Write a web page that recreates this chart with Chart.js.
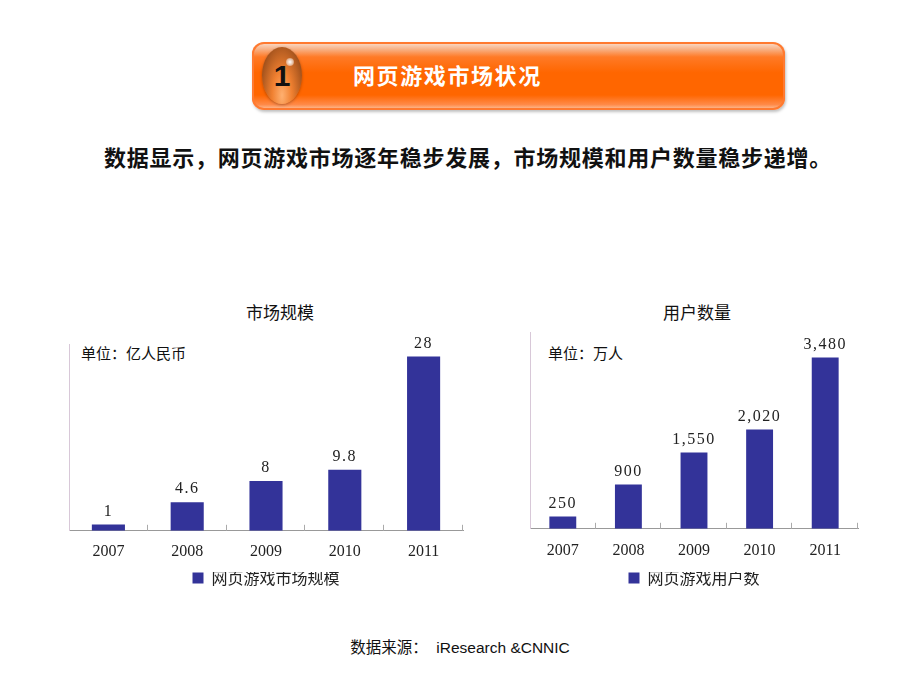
<!DOCTYPE html>
<html>
<head>
<meta charset="utf-8">
<script src="https://cdn.jsdelivr.net/npm/chart.js@4.4.0/dist/chart.umd.min.js"></script>
<style>
body { margin:0; width:920px; height:690px; background:#fff; position:relative; overflow:hidden; font-family:"Noto Sans CJK SC", sans-serif; color:#111; }
#banner { position:absolute; left:252px; top:42px; width:533px; height:68px; border-radius:12px;
  background:linear-gradient(to bottom, #fbe3d4 0%, #f7b48a 10%, #ff7a26 22%, #ff6600 45%, #ff6600 78%, #ff8a48 92%, #fbc9a8 100%);
  box-shadow: inset 0 0 0 2px #ff7a30, 1px 2px 3px rgba(0,0,0,0.25); }
#ball { position:absolute; left:262px; top:47px; width:40px; height:57px; border-radius:50%;
  background:radial-gradient(ellipse at 50% 85%, #ffb070 0%, #f08030 35%, #b05a20 70%, #7a3a10 100%);
  box-shadow: 0 1px 3px rgba(0,0,0,0.3); }
#ball .spot { position:absolute; left:24px; top:11px; width:8px; height:8px; border-radius:50%; background:radial-gradient(circle, #fff 0%, rgba(255,255,255,0.6) 50%, rgba(255,255,255,0) 100%); }
#ball .num { position:absolute; left:0; width:100%; top:12px; text-align:center; font:bold 30px "Liberation Sans", Arial, sans-serif; color:#111; }
#bannerText { position:absolute; left:353px; top:58px; font-weight:bold; font-size:22px; letter-spacing:1.6px; color:#fff; line-height:32px; }
#subtitle { position:absolute; left:8px; width:920px; top:141px; text-align:center; font-weight:bold; font-size:22px; letter-spacing:0.75px; line-height:30px; color:#111; }
.ctitle { position:absolute; top:300px; font-size:17px; line-height:24px; text-align:center; width:200px; }
.unit { position:absolute; top:342px; font-size:15px; line-height:22px; }
#source { position:absolute; left:0; width:920px; top:638px; text-align:center; font-size:15.5px; line-height:20px; white-space:pre; font-family:"Liberation Sans", Arial, "Noto Sans CJK SC", sans-serif; }
canvas { position:absolute; }
</style>
</head>
<body>
<div id="banner"></div>
<div id="ball"><div class="num">1</div><div class="spot"></div></div>
<div id="bannerText">网页游戏市场状况</div>
<div id="subtitle">数据显示，网页游戏市场逐年稳步发展，市场规模和用户数量稳步递增。</div>

<div class="ctitle" style="left:180px;">市场规模</div>
<div class="ctitle" style="left:597px;">用户数量</div>
<div class="unit" style="left:81px;">单位：亿人民币</div>
<div class="unit" style="left:548px;">单位：万人</div>

<div style="position:absolute;left:0;top:330px;width:470px;height:266px;"><canvas id="marketChart"></canvas></div>
<div style="position:absolute;left:470px;top:318px;width:450px;height:278px;"><canvas id="userChart"></canvas></div>

<div id="source">数据来源：  iResearch &amp;CNNIC</div>

<script>
// dữ liệu
const years = ['2007', '2008', '2009', '2010', '2011'];
const marketSize = [1, 4.6, 8, 9.8, 28];       // 亿人民币
const userCount = [250, 900, 1550, 2020, 3480]; // 万人
const marketTicks = [0, 5, 10, 15, 20, 25, 30];
const userTicks = [0, 500, 1000, 1500, 2000, 2500, 3000, 3500, 4000];

const BAR_COLOR = '#333399';
const SERIF = '"Liberation Serif", "DejaVu Serif", serif';

function makeBarLabels(format) {
    return {
        id: 'barLabels',
        afterDatasetsDraw(chart) {
            const ctx = chart.ctx;
            const meta = chart.getDatasetMeta(0);
            const values = chart.data.datasets[0].data;
            ctx.save();
            ctx.font = '16px ' + SERIF;
            ctx.fillStyle = '#222';
            ctx.textAlign = 'center';
            ctx.textBaseline = 'bottom';
            ctx.letterSpacing = '1.5px';
            meta.data.forEach((bar, i) => {
                ctx.fillText(format(values[i]), bar.x, bar.y - 5);
            });
            ctx.restore();
        }
    };
}

// vạch nhỏ hướng lên trên trục x, ở ranh giới giữa các nhóm
const innerTicks = {
    id: 'innerTicks',
    afterDraw(chart) {
        const { ctx, chartArea } = chart;
        const n = chart.data.labels.length;
        const w = (chartArea.right - chartArea.left) / n;
        ctx.save();
        ctx.strokeStyle = '#aaa';
        ctx.lineWidth = 1;
        for (let i = 1; i <= n; i++) {
            const x = Math.round(chartArea.left + i * w) - 0.5;
            ctx.beginPath();
            ctx.moveTo(x, chartArea.bottom);
            ctx.lineTo(x, chartArea.bottom - 6);
            ctx.stroke();
        }
        ctx.restore();
    }
};

function buildChart(id, label, values, ticks, format, pad, barPct, tickPad) {
    const ctx = document.getElementById(id).getContext('2d');
    return new Chart(ctx, {
        type: 'bar',
        data: {
            labels: years,
            datasets: [{
                label: label,
                data: values,
                backgroundColor: BAR_COLOR,
                borderWidth: 0,
                categoryPercentage: 1,
                barPercentage: barPct
            }]
        },
        options: {
            responsive: true,
            maintainAspectRatio: false,
            animation: false,
            layout: { padding: pad },
            plugins: {
                title: { display: false },
                tooltip: { enabled: false },
                legend: {
                    position: 'bottom',
                    labels: {
                        boxWidth: 11,
                        boxHeight: 11,
                        padding: -2,
                        color: '#222',
                        font: { size: 16, family: '"Noto Sans CJK SC", sans-serif' }
                    }
                }
            },
            scales: {
                x: {
                    grid: { display: false, drawTicks: false },
                    border: { display: true, color: '#999', width: 1 },
                    ticks: {
                        color: '#222',
                        padding: tickPad,
                        // lineHeight nhỏ để chữ gần chú thích hơn
                        font: { size: 16, family: SERIF, lineHeight: 0.2 }
                    }
                },
                y: {
                    min: ticks[0],
                    max: ticks[ticks.length - 1],
                    ticks: { display: false, stepSize: ticks[1] - ticks[0] },
                    grid: { display: false, drawTicks: false },
                    border: { display: true, color: '#d8c8d8', width: 1, dash: [1, 3] }
                }
            }
        },
        plugins: [makeBarLabels(format), innerTicks]
    });
}

buildChart('marketChart', '网页游戏市场规模', marketSize, marketTicks,
    v => String(v), { left: 69, right: 7, top: 14, bottom: 0 }, 0.42, 19);

buildChart('userChart', '网页游戏用户数', userCount, userTicks,
    v => v.toLocaleString('en-US'), { left: 60, right: 62, top: 14, bottom: 0 }, 0.41, 20);
</script>
</body>
</html>
